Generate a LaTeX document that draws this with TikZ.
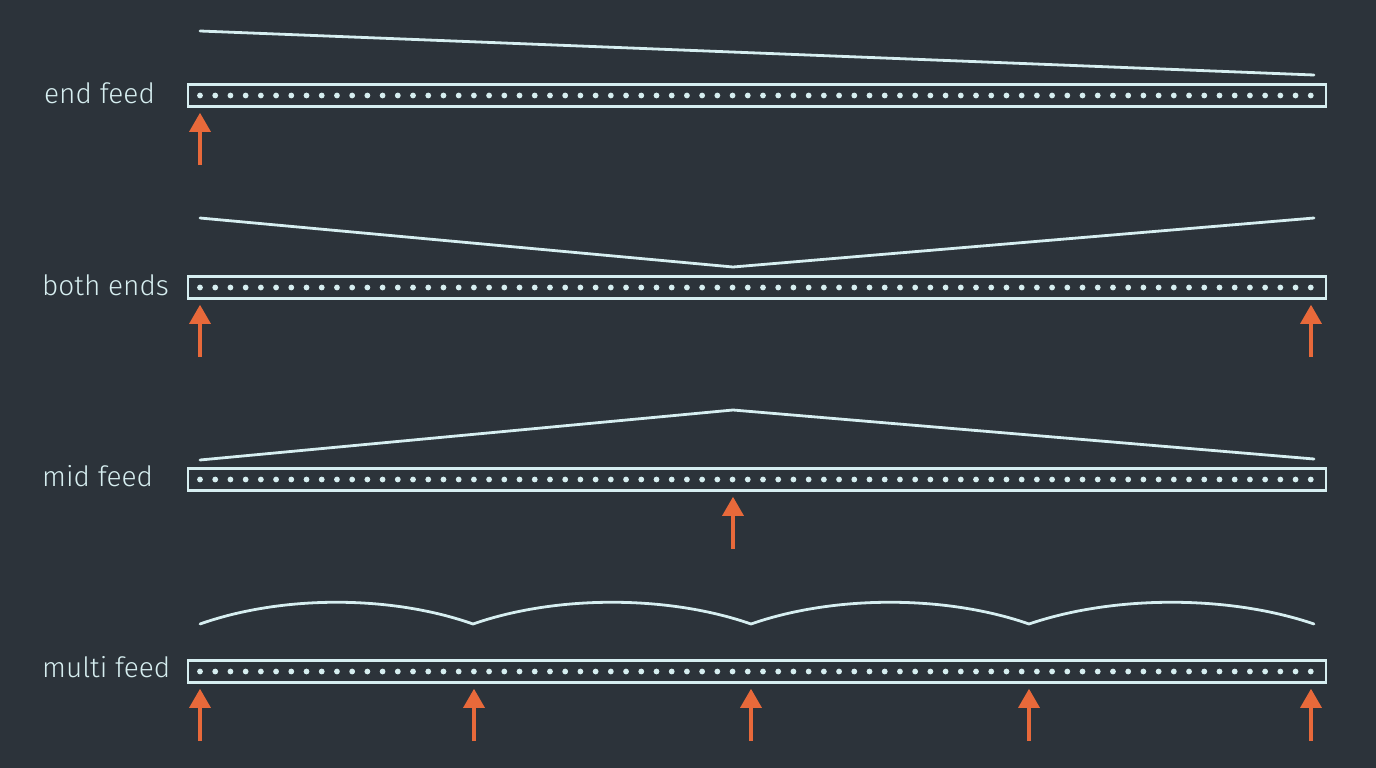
\documentclass[tikz,border=0pt]{standalone}
\usepackage{fontspec}
\setmainfont{Fira Sans Light}
\usetikzlibrary{arrows.meta}
\definecolor{bg}{HTML}{2C333A}
\definecolor{ln}{HTML}{D6EEF0}
\definecolor{org}{HTML}{E8693A}
\tikzset{
  strip/.style={draw=ln,line width=2.6pt,rectangle,minimum width=1138pt,minimum height=22pt,inner sep=0pt},
  profile/.style={draw=ln,line width=2.8pt,line join=round,line cap=round},
  feed/.style={draw=org,line width=3.2pt,-{Triangle[width=21pt,length=19pt]},shorten >=5pt},
  lbl/.style={text=ln,font=\fontsize{28}{32}\selectfont,anchor=base west,inner sep=0pt},
  dot/.style={fill=ln,draw=none}
}
\begin{document}
\begin{tikzpicture}[x=1pt,y=-1pt]
\fill[bg] (0,0) rectangle (1376,768);
\useasboundingbox (0,0) rectangle (1376,768);
% strips
\foreach \n/\y in {s1/95.5,s2/287.5,s3/479.5,s4/671.5}{
  \node[strip] (\n) at (757,\y) {};
  \foreach \i in {0,...,73}{
    \fill[dot] (200+\i*15.216,\y) circle (2.9pt);
  }
}
% labels
\node[lbl] (l1) at (44,103) {end feed};
\node[lbl] (l2) at (42,295) {both ends};
\node[lbl] (l3) at (42,486) {mid feed};
\node[lbl] (l4) at (42,677) {multi feed};
% profiles
\draw[profile] (200,31) -- (1314,75);
\draw[profile] (200,218) -- (733,267) -- (1314,218);
\draw[profile] (200,460) -- (733,410) -- (1314,459);
\draw[profile] (200,624)
  .. controls (282,595) and (391,595) .. (473,624)
  .. controls (556,595) and (668,595) .. (751,624)
  .. controls (834,595) and (946,595) .. (1029,624)
  .. controls (1114,595) and (1229,595) .. (1314,624);
% feed arrows
\coordinate (a1) at (200,165);
\coordinate (a2) at (200,357);
\coordinate (a3) at (1311,357);
\coordinate (a4) at (733,549);
\coordinate (a5) at (200,741);
\coordinate (a6) at (474,741);
\coordinate (a7) at (751,741);
\coordinate (a8) at (1029,741);
\coordinate (a9) at (1311,741);
\draw[feed] (a1) -- (a1 |- s1.south);
\draw[feed] (a2) -- (a2 |- s2.south);
\draw[feed] (a3) -- (a3 |- s2.south);
\draw[feed] (a4) -- (a4 |- s3.south);
\foreach \a in {a5,a6,a7,a8,a9}{
  \draw[feed] (\a) -- (\a |- s4.south);
}
\end{tikzpicture}
\end{document}
